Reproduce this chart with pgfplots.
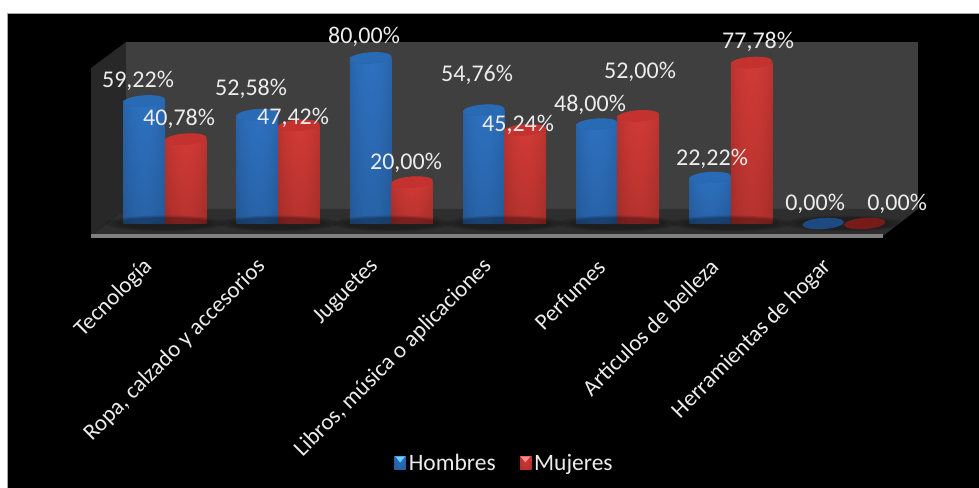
\documentclass[border=0pt]{standalone}
\usepackage{pgfplots}
\usepackage{pgfplotstable}
\usepackage{fontspec}
\setmainfont{Carlito}
\pgfplotsset{compat=1.18}

% Survey shares per category, with label offsets from the top of each cylinder (bp)
\pgfplotstableread{
idx hombres hdx  hdy  mujeres mdx  mdy
0   59.22   -6.3 19.9 40.78   -6.8 20.1
1   52.58   -6.4 25.7 47.42   -5.9 7.3
2   80.00   -6.6 20.9 20.00   -6.1 19.1
3   54.76   -6.7 35.1 45.24   -7.2 4.9
4   48.00   -6.9 19.1 52.00   1.6  43.9
5   22.22   2.0  18.5 77.78   6.5  20.5
6   0.00    -8.1 19.5 0.00    32.4 19.5
}\surveydata

% Cylinder body: brightest near the middle, darkening towards the edges and the floor
\newcommand{\declarecylinder}[4]{%
  \pgfdeclarefunctionalshading{#1}{\pgfpointorigin}{\pgfpoint{100bp}{100bp}}{}{
    100 div 0.24 mul 0.76 add exch 50 sub 50 div dup mul 0.45 mul 1 exch sub mul
    dup #2 mul exch dup #3 mul exch #4 mul
  }%
  \pgfdeclarefunctionalshading{#1base}{\pgfpointorigin}{\pgfpoint{100bp}{100bp}}{}{
    pop 50 sub 50 div dup mul 0.45 mul 1 exch sub 0.76 mul
    dup #2 mul exch dup #3 mul exch #4 mul
  }%
  \pgfdeclareplotmark{#1base}{%
    \pgfpathellipse{\pgfpointorigin}{\pgfpoint{20.75bp}{1.4bp}}{\pgfpoint{-0.35bp}{5.4bp}}%
    \pgfshadepath{#1base}{0}\pgfusepath{discard}}%
}
\declarecylinder{cylblue}{0.19}{0.47}{0.80}
\declarecylinder{cylred}{0.87}{0.24}{0.22}

\pgfdeclareplotmark{capellipse}{%
  \pgfpathellipse{\pgfpointorigin}{\pgfpoint{20.75bp}{1.4bp}}{\pgfpoint{-0.35bp}{5.6bp}}%
  \pgfusepathqfill}
% soft shadow: nested translucent ellipses
\pgfdeclareplotmark{floorshadow}{%
  \pgfpathellipse{\pgfpointorigin}{\pgfpoint{60bp}{0bp}}{\pgfpoint{0bp}{8bp}}\pgfusepathqfill
  \pgfpathellipse{\pgfpointorigin}{\pgfpoint{54bp}{0bp}}{\pgfpoint{0bp}{7bp}}\pgfusepathqfill
  \pgfpathellipse{\pgfpointorigin}{\pgfpoint{48bp}{0bp}}{\pgfpoint{0bp}{6bp}}\pgfusepathqfill}

\definecolor{panelwall}{RGB}{63,63,63}
\definecolor{sidewall}{RGB}{40,40,40}
\definecolor{floorgrey}{RGB}{46,46,46}
\definecolor{axisgrey}{RGB}{128,128,128}
\definecolor{labelwhite}{RGB}{236,236,236}
\definecolor{capblue}{RGB}{40,106,180}
\definecolor{capred}{RGB}{196,50,48}
\definecolor{zeroblue}{RGB}{30,74,130}
\definecolor{zerored}{RGB}{118,26,26}

\newcommand{\valuefont}{\fontsize{24bp}{28bp}\selectfont}
\newcommand{\tickfont}{\fontsize{23bp}{28bp}\selectfont}
\newcommand{\legendfont}{\fontsize{23.5bp}{28bp}\selectfont}

\pgfplotsset{
  cylinder body/.style={forget plot, ybar, bar width=41.5bp, bar shift=0pt, draw=none},
  cylinder cap/.style={forget plot, only marks, mark=capellipse, mark options={fill=#1, draw=none}},
  value labels/.style={
    forget plot, draw=none, point meta=y,
    nodes near coords={\pgfmathprintnumber[assume math mode=true, use comma, fixed, fixed zerofill, precision=2]{\pgfplotspointmeta}\%},
    every node near coord/.append style={font=\valuefont, text=labelwhite, anchor=center, inner sep=0pt, xshift=\lx bp, yshift=\ly bp},
  },
}

\begin{document}
\begin{tikzpicture}
  \path[use as bounding box] (0,0) rectangle (979bp,488bp);
  \begin{scope}[x=1bp,y=1bp]
    \fill[white] (0,0) rectangle (979,488);
    \fill[black] (7,0) rectangle (979,474);
    \draw[gray!70,line width=0.8bp] (7,0) -- (7,474.5) -- (979,474.5);
    % chart box: back wall, side wall, floor and its front edge
    \fill[panelwall] (126,279) rectangle (918,446);
    \fill[sidewall] (91,252) -- (126,279) -- (126,446) -- (91,420) -- cycle;
    \fill[floorgrey] (91,252) -- (126,279) -- (918,279) -- (883,252) -- cycle;
    \fill[axisgrey] (91,250.4) rectangle (883,253.6);
  \end{scope}

  \begin{axis}[
    at={(91bp,252bp)}, anchor=south west,
    x=113.14bp, y=2.07bp,
    xmin=-0.5, xmax=6.5, ymin=-6.04, ymax=87.7,
    clip=false,
    axis y line=none,
    axis x line=bottom,
    x axis line style={draw=none},
    xtick={0,...,6},
    major tick length=0pt,
    xticklabels={Tecnología,{Ropa, calzado y accesorios},Juguetes,{Libros, música o aplicaciones},Perfumes,Articulos de belleza,Herramientas de hogar},
    xticklabel style={font=\tickfont, text=labelwhite, rotate=45, anchor=east, inner sep=0pt, xshift=-18.3bp, yshift=-20bp},
    legend style={at={(0.5215,-1.17)}, anchor=center, draw=none, fill=none,
      text=labelwhite, font=\legendfont, legend columns=2, inner sep=0pt,
      /tikz/every even column/.append style={column sep=21bp}},
    legend cell align=left,
  ]
    % shadows on the floor
    \addplot[forget plot, only marks, mark=floorshadow, mark options={fill=black, draw=none, fill opacity=0.12}]
      table[x expr=\thisrow{idx}+0.155, y expr=0] {\surveydata};

    % Each category gets its own body, so that the shading follows that one bar;
    % an empty category leaves a flat dim disc
    \pgfplotsinvokeforeach{0,...,5}{
      \addplot[forget plot, only marks, mark=cylbluebase, restrict expr to domain={\coordindex}{#1:#1}]
        table[x expr=\thisrow{idx}-0.0285, y=hombres] {\surveydata};
      \addplot[cylinder body, shading=cylblue, restrict expr to domain={\coordindex}{#1:#1}]
        table[x expr=\thisrow{idx}-0.0285, y=hombres] {\surveydata};
      \addplot[cylinder cap=capblue, restrict expr to domain={\coordindex}{#1:#1}]
        table[x expr=\thisrow{idx}-0.0285, y=hombres] {\surveydata};
      \addplot[forget plot, only marks, mark=cylredbase, restrict expr to domain={\coordindex}{#1:#1}]
        table[x expr=\thisrow{idx}+0.3385, y=mujeres] {\surveydata};
      \addplot[cylinder body, shading=cylred, restrict expr to domain={\coordindex}{#1:#1}]
        table[x expr=\thisrow{idx}+0.3385, y=mujeres] {\surveydata};
      \addplot[cylinder cap=capred, restrict expr to domain={\coordindex}{#1:#1}]
        table[x expr=\thisrow{idx}+0.3385, y=mujeres] {\surveydata};
    }
    \addplot[cylinder cap=zeroblue, restrict y to domain=-1:0.01]
      table[x expr=\thisrow{idx}-0.0285, y=hombres] {\surveydata};
    \addplot[cylinder cap=zerored, restrict y to domain=-1:0.01]
      table[x expr=\thisrow{idx}+0.3385, y=mujeres] {\surveydata};

    % value labels, on top of every cylinder
    \addplot[value labels,
      visualization depends on={\thisrow{hdx} \as \lx},
      visualization depends on={\thisrow{hdy} \as \ly}]
      table[x expr=\thisrow{idx}-0.0285, y=hombres] {\surveydata};
    \addplot[value labels,
      visualization depends on={\thisrow{mdx} \as \lx},
      visualization depends on={\thisrow{mdy} \as \ly}]
      table[x expr=\thisrow{idx}+0.3385, y=mujeres] {\surveydata};

    \addlegendimage{legend image code/.code={
      \shade[shading=cylblue] (-9bp,-7.5bp) rectangle (4bp,7.5bp);
      \fill[blue!30!cyan!60!white] (-7bp,6.5bp) -- (2bp,6.5bp) -- (-2.5bp,1bp) -- cycle;}}
    \addlegendentry{Hombres}
    \addlegendimage{legend image code/.code={
      \shade[shading=cylred] (-9bp,-7.5bp) rectangle (4bp,7.5bp);
      \fill[red!45!white] (-7bp,6.5bp) -- (2bp,6.5bp) -- (-2.5bp,1bp) -- cycle;}}
    \addlegendentry{Mujeres}
  \end{axis}
\end{tikzpicture}
\end{document}
